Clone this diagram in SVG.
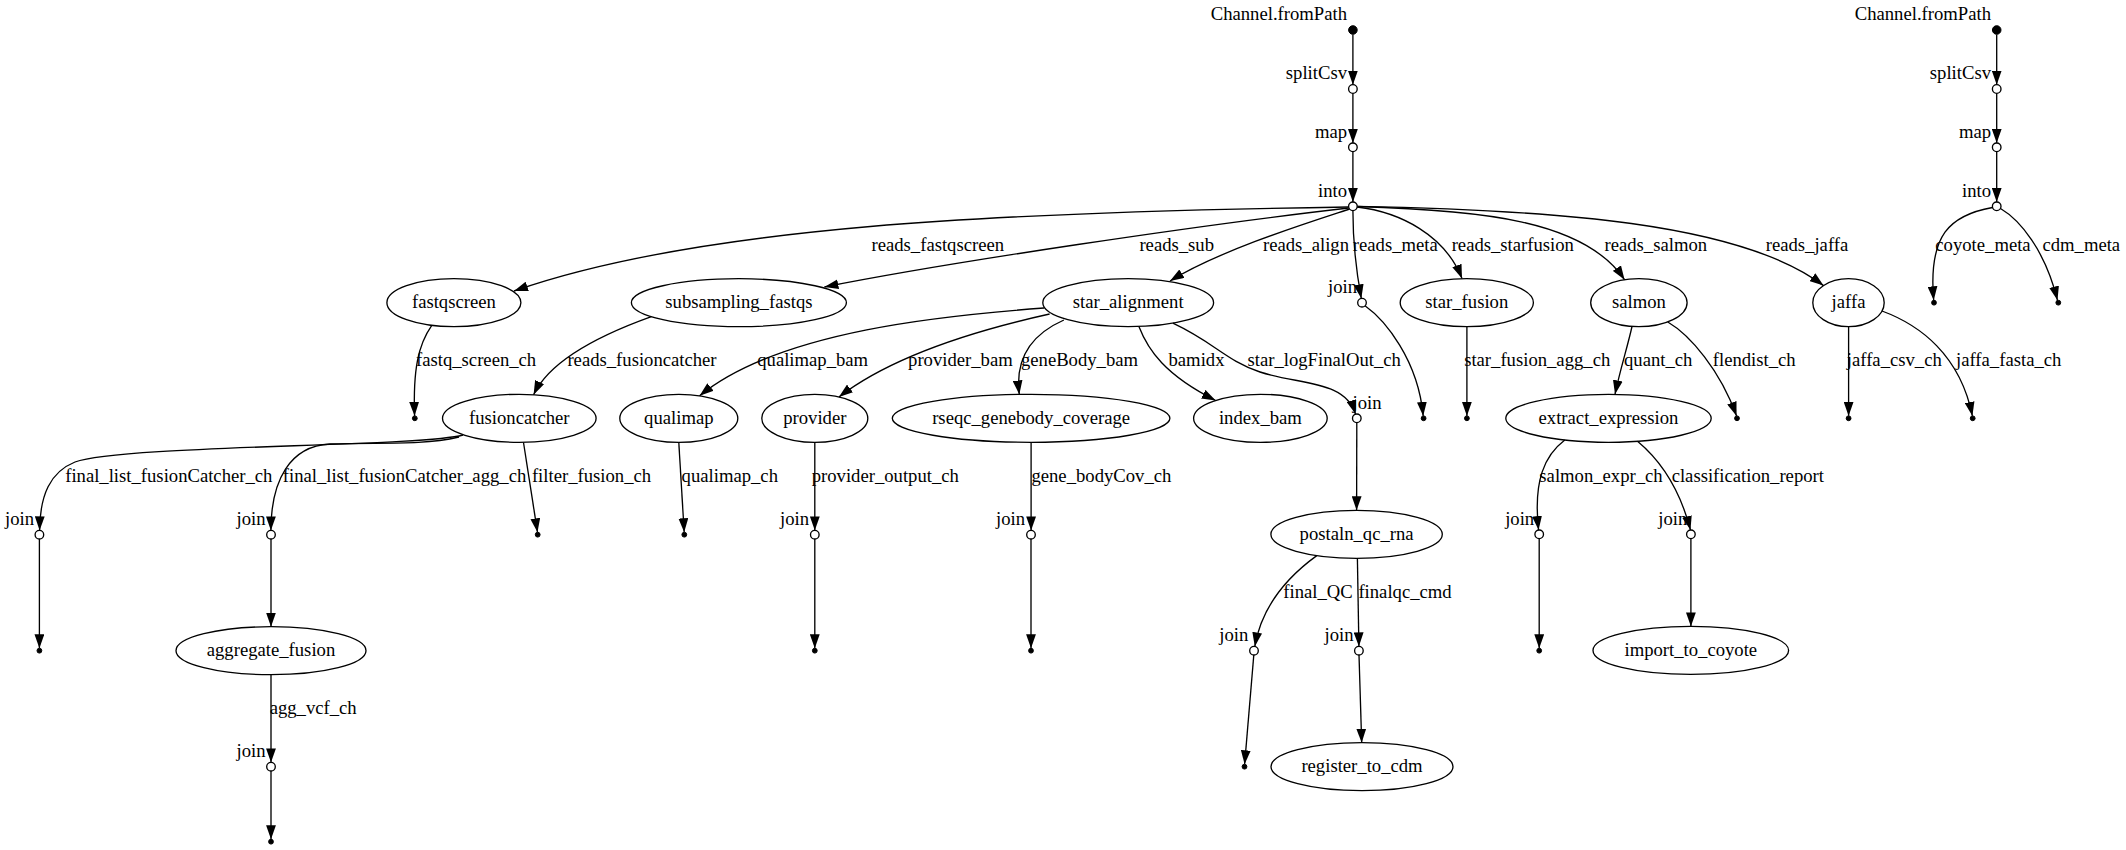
<svg xmlns="http://www.w3.org/2000/svg" width="2126" height="850" viewBox="0 0 2126 850">
<style>
.n{fill:none;stroke:#000;stroke-width:1.33}
.op{fill:#fff;stroke:#000;stroke-width:1.33}
.pt{fill:#000;stroke:#000;stroke-width:1}
.e{fill:none;stroke:#000;stroke-width:1.33;marker-end:url(#ah)}
text{font-family:"Liberation Serif","Times New Roman",serif;font-size:18.67px;fill:#000}
.c{text-anchor:middle}
.xl{text-anchor:end}
</style>
<defs>
<marker id="ah" markerUnits="userSpaceOnUse" markerWidth="14" markerHeight="10" viewBox="0 0 13.3 9.34" refX="13.3" refY="4.67" orient="auto">
<path d="M0,0 L13.3,4.67 L0,9.34 Z" fill="#000"/>
</marker>
</defs>
<rect width="2126" height="850" fill="#fff"/>

<g id="connectors">
<path class="e" d="M1352.9,34.5 L1352.9,84.7"/>
<path class="e" d="M1352.9,93.3 L1352.9,143"/>
<path class="e" d="M1352.9,151.6 L1352.9,202"/>
<path class="e" d="M1996.7,34.5 L1996.7,84.7"/>
<path class="e" d="M1996.7,93.3 L1996.7,143"/>
<path class="e" d="M1996.7,151.6 L1996.7,202"/>
<path class="e" d="M1348.6,207 C1000,212 700,226 514,291"/>
<path class="e" d="M1348.7,208 C1200,225 950,262 824.4,287"/>
<path class="e" d="M1349.5,209 C1310,222 1220,250 1170,281"/>
<path class="e" d="M1352.9,210.6 C1352.9,240 1356,270 1361.3,298.4"/>
<path class="e" d="M1357,207 C1400,212 1445,235 1462,278.6"/>
<path class="e" d="M1357,206.5 C1480,210 1585,220 1624.6,279.8"/>
<path class="e" d="M1357,206.3 C1550,210 1740,222 1823.5,285.6"/>
<path class="e" d="M1992.5,207.5 C1950,215 1928,235 1933.7,300.3"/>
<path class="e" d="M2000.5,208.5 C2020,220 2045,250 2057.5,300.3"/>
<path class="e" d="M431.8,325.4 C418,345 413,370 414.6,415.9"/>
<path class="e" d="M651.4,316.6 C600,335 550,360 533.6,394.7"/>
<path class="e" d="M1044,308 C950,315 780,330 699.6,395.8"/>
<path class="e" d="M1049.6,314 C1000,325 900,350 838.9,397"/>
<path class="e" d="M1063.9,320 C1030,335 1015,360 1019.3,394.4"/>
<path class="e" d="M1138.9,326.5 C1148,350 1165,375 1215.7,400.5"/>
<path class="e" d="M1172.9,323.2 C1215,343 1225,360 1260,372 C1300,385 1345,380 1355.5,414"/>
<path class="e" d="M1365,305.8 C1385,320 1418,360 1423.2,415.9"/>
<path class="e" d="M1466.9,326.9 L1466.9,415.9"/>
<path class="e" d="M1632,326.5 C1628,345 1620,370 1615,394.3"/>
<path class="e" d="M1667.8,322 C1690,335 1720,370 1736.6,415.9"/>
<path class="e" d="M1848.6,326.9 L1848.6,415.9"/>
<path class="e" d="M1882,311 C1920,325 1960,355 1972.4,415.9"/>
<path class="e" d="M463,435 C420,447 120,445 75,462 C50,472 40,495 39.6,530.4"/>
<path class="e" d="M459,437 C420,446 380,442 330,444 C290,446 271,480 270.9,530.4"/>
<path class="e" d="M523.5,442.5 L537.5,532.3"/>
<path class="e" d="M678.8,442.5 L684.2,532.3"/>
<path class="e" d="M814.8,442.5 L814.8,530.4"/>
<path class="e" d="M814.8,539 L814.8,648.3"/>
<path class="e" d="M1031.1,442.5 L1031.1,530.4"/>
<path class="e" d="M1031,539 L1031,648.3"/>
<path class="e" d="M1356.8,422.6 L1356.6,510.3"/>
<path class="e" d="M1316.8,555.6 C1290,575 1262,605 1254.8,646.4"/>
<path class="e" d="M1357.4,558.5 L1358.9,646.4"/>
<path class="e" d="M1253.8,655 L1244.6,764.3"/>
<path class="e" d="M1359,655 L1361.7,742.7"/>
<path class="e" d="M1564.8,440 C1545,455 1533,480 1538.6,530"/>
<path class="e" d="M1637.5,441.3 C1660,460 1680,490 1690.5,530"/>
<path class="e" d="M1539.2,538.6 L1539.2,648.3"/>
<path class="e" d="M1690.9,538.6 L1690.9,626.4"/>
<path class="e" d="M39.4,539 L39.4,648.3"/>
<path class="e" d="M271,539 L271,626.7"/>
<path class="e" d="M271,674.7 L271,762.4"/>
<path class="e" d="M271,771 L271,839.3"/>
<text class="c" x="937.8" y="250.5">reads_fastqscreen</text>
<text class="c" x="1176.7" y="250.5">reads_sub</text>
<text class="c" x="1306" y="250.5">reads_align</text>
<text class="c" x="1395.3" y="250.5">reads_meta</text>
<text class="c" x="1512.8" y="250.5">reads_starfusion</text>
<text class="c" x="1655.8" y="250.5">reads_salmon</text>
<text class="c" x="1807" y="250.5">reads_jaffa</text>
<text class="c" x="1983" y="250.5">coyote_meta</text>
<text class="c" x="2081.3" y="250.5">cdm_meta</text>
<text class="c" x="476.1" y="366">fastq_screen_ch</text>
<text class="c" x="642" y="366">reads_fusioncatcher</text>
<text class="c" x="812.7" y="366">qualimap_bam</text>
<text class="c" x="960.4" y="366">provider_bam</text>
<text class="c" x="1079.5" y="366">geneBody_bam</text>
<text class="c" x="1196.5" y="366">bamidx</text>
<text class="c" x="1324.2" y="366">star_logFinalOut_ch</text>
<text class="c" x="1537.2" y="366">star_fusion_agg_ch</text>
<text class="c" x="1658.2" y="366">quant_ch</text>
<text class="c" x="1754.2" y="366">flendist_ch</text>
<text class="c" x="1894.3" y="366">jaffa_csv_ch</text>
<text class="c" x="2008.7" y="366">jaffa_fasta_ch</text>
<text class="c" x="168.8" y="482">final_list_fusionCatcher_ch</text>
<text class="c" x="404.5" y="482">final_list_fusionCatcher_agg_ch</text>
<text class="c" x="591.5" y="482">filter_fusion_ch</text>
<text class="c" x="729.8" y="482">qualimap_ch</text>
<text class="c" x="885.3" y="482">provider_output_ch</text>
<text class="c" x="1101.4" y="482">gene_bodyCov_ch</text>
<text class="c" x="1601" y="482">salmon_expr_ch</text>
<text class="c" x="1747.8" y="482">classification_report</text>
<text class="c" x="1318" y="598">final_QC</text>
<text class="c" x="1405" y="598">finalqc_cmd</text>
<text class="c" x="313.2" y="713.5">agg_vcf_ch</text>
</g>

<g id="origin_1"><circle class="pt" cx="1352.9" cy="30" r="4.3"/><text class="xl" x="1347" y="20">Channel.fromPath</text></g>
<g id="splitCsv_1"><circle class="op" cx="1352.9" cy="89" r="4.3"/><text class="xl" x="1347" y="79">splitCsv</text></g>
<g id="map_1"><circle class="op" cx="1352.9" cy="147.3" r="4.3"/><text class="xl" x="1347" y="137.5">map</text></g>
<g id="into_1"><circle class="op" cx="1352.9" cy="206.3" r="4.3"/><text class="xl" x="1347" y="196.5">into</text></g>
<g id="origin_2"><circle class="pt" cx="1996.7" cy="30" r="4.3"/><text class="xl" x="1991" y="20">Channel.fromPath</text></g>
<g id="splitCsv_2"><circle class="op" cx="1996.7" cy="89" r="4.3"/><text class="xl" x="1991" y="79">splitCsv</text></g>
<g id="map_2"><circle class="op" cx="1996.7" cy="147.3" r="4.3"/><text class="xl" x="1991" y="137.5">map</text></g>
<g id="into_2"><circle class="op" cx="1996.7" cy="206.3" r="4.3"/><text class="xl" x="1991" y="196.5">into</text></g>
<g id="end_coyote_meta"><circle class="pt" cx="1934" cy="302.7" r="2.4"/></g>
<g id="end_cdm_meta"><circle class="pt" cx="2058.3" cy="302.7" r="2.4"/></g>

<g id="fastqscreen"><ellipse class="n" cx="453.9" cy="302.7" rx="67" ry="24"/><text class="c" x="453.9" y="308.3">fastqscreen</text></g>
<g id="subsampling_fastqs"><ellipse class="n" cx="738.9" cy="302.7" rx="107.5" ry="24"/><text class="c" x="738.9" y="308.3">subsampling_fastqs</text></g>
<g id="star_alignment"><ellipse class="n" cx="1128.2" cy="302.7" rx="85.4" ry="24"/><text class="c" x="1128.2" y="308.3">star_alignment</text></g>
<g id="join_meta"><circle class="op" cx="1362" cy="302.7" r="4.3"/><text class="xl" x="1357" y="293">join</text></g>
<g id="star_fusion"><ellipse class="n" cx="1466.8" cy="302.7" rx="66.6" ry="24"/><text class="c" x="1466.8" y="308.3">star_fusion</text></g>
<g id="salmon"><ellipse class="n" cx="1638.9" cy="302.7" rx="48.2" ry="24"/><text class="c" x="1638.9" y="308.3">salmon</text></g>
<g id="jaffa"><ellipse class="n" cx="1848.5" cy="302.7" rx="35.7" ry="24"/><text class="c" x="1848.5" y="308.3">jaffa</text></g>

<g id="end_fastq_screen"><circle class="pt" cx="414.8" cy="418.3" r="2.4"/></g>
<g id="fusioncatcher"><ellipse class="n" cx="519.3" cy="418.3" rx="76.8" ry="24"/><text class="c" x="519.3" y="423.9">fusioncatcher</text></g>
<g id="qualimap"><ellipse class="n" cx="678.8" cy="418.3" rx="59" ry="24"/><text class="c" x="678.8" y="423.9">qualimap</text></g>
<g id="provider"><ellipse class="n" cx="814.8" cy="418.3" rx="53" ry="24"/><text class="c" x="814.8" y="423.9">provider</text></g>
<g id="rseqc_genebody_coverage"><ellipse class="n" cx="1031.1" cy="418.3" rx="138.8" ry="24"/><text class="c" x="1031.1" y="423.9">rseqc_genebody_coverage</text></g>
<g id="index_bam"><ellipse class="n" cx="1260.4" cy="418.3" rx="66.8" ry="24"/><text class="c" x="1260.4" y="423.9">index_bam</text></g>
<g id="join_logfinal"><circle class="op" cx="1356.8" cy="418.3" r="4.3"/><text x="1352.5" y="408.5">join</text></g>
<g id="end_meta"><circle class="pt" cx="1423.6" cy="418.3" r="2.4"/></g>
<g id="end_star_fusion"><circle class="pt" cx="1466.9" cy="418.3" r="2.4"/></g>
<g id="extract_expression"><ellipse class="n" cx="1608.5" cy="418.3" rx="102.7" ry="24"/><text class="c" x="1608.5" y="423.9">extract_expression</text></g>
<g id="end_flendist"><circle class="pt" cx="1737" cy="418.3" r="2.4"/></g>
<g id="end_jaffa_csv"><circle class="pt" cx="1848.6" cy="418.3" r="2.4"/></g>
<g id="end_jaffa_fasta"><circle class="pt" cx="1972.7" cy="418.3" r="2.4"/></g>

<g id="join_fc1"><circle class="op" cx="39.4" cy="534.7" r="4.3"/><text class="xl" x="34" y="525">join</text></g>
<g id="join_fc2"><circle class="op" cx="271" cy="534.7" r="4.3"/><text class="xl" x="265.5" y="525">join</text></g>
<g id="end_filter_fusion"><circle class="pt" cx="537.7" cy="534.7" r="2.4"/></g>
<g id="end_qualimap"><circle class="pt" cx="684.3" cy="534.7" r="2.4"/></g>
<g id="join_provider"><circle class="op" cx="814.8" cy="534.7" r="4.3"/><text class="xl" x="809" y="525">join</text></g>
<g id="join_rseqc"><circle class="op" cx="1031" cy="534.7" r="4.3"/><text class="xl" x="1025" y="525">join</text></g>
<g id="postaln_qc_rna"><ellipse class="n" cx="1356.6" cy="534.3" rx="85.7" ry="24"/><text class="c" x="1356.6" y="539.9">postaln_qc_rna</text></g>
<g id="join_salmon_expr"><circle class="op" cx="1539.2" cy="534.3" r="4.3"/><text class="xl" x="1534.2" y="524.6">join</text></g>
<g id="join_classification"><circle class="op" cx="1690.9" cy="534.3" r="4.3"/><text class="xl" x="1687.3" y="524.6">join</text></g>

<g id="end_fc1"><circle class="pt" cx="39.4" cy="650.7" r="2.4"/></g>
<g id="aggregate_fusion"><ellipse class="n" cx="271" cy="650.7" rx="95" ry="24"/><text class="c" x="271" y="656.3">aggregate_fusion</text></g>
<g id="end_provider"><circle class="pt" cx="814.8" cy="650.7" r="2.4"/></g>
<g id="end_rseqc"><circle class="pt" cx="1031" cy="650.7" r="2.4"/></g>
<g id="join_final_qc"><circle class="op" cx="1254" cy="650.7" r="4.3"/><text class="xl" x="1248.3" y="641">join</text></g>
<g id="join_finalqc_cmd"><circle class="op" cx="1358.9" cy="650.7" r="4.3"/><text class="xl" x="1353.5" y="641">join</text></g>
<g id="end_salmon_expr"><circle class="pt" cx="1539.2" cy="650.7" r="2.4"/></g>
<g id="import_to_coyote"><ellipse class="n" cx="1690.8" cy="650.4" rx="97.8" ry="24"/><text class="c" x="1690.8" y="656">import_to_coyote</text></g>

<g id="join_agg"><circle class="op" cx="271" cy="766.7" r="4.3"/><text class="xl" x="265.5" y="757">join</text></g>
<g id="end_final_qc"><circle class="pt" cx="1244.5" cy="766.7" r="2.4"/></g>
<g id="register_to_cdm"><ellipse class="n" cx="1362" cy="766.7" rx="91" ry="24"/><text class="c" x="1362" y="772.3">register_to_cdm</text></g>
<g id="end_agg"><circle class="pt" cx="271" cy="841.7" r="2.4"/></g>
</svg>
